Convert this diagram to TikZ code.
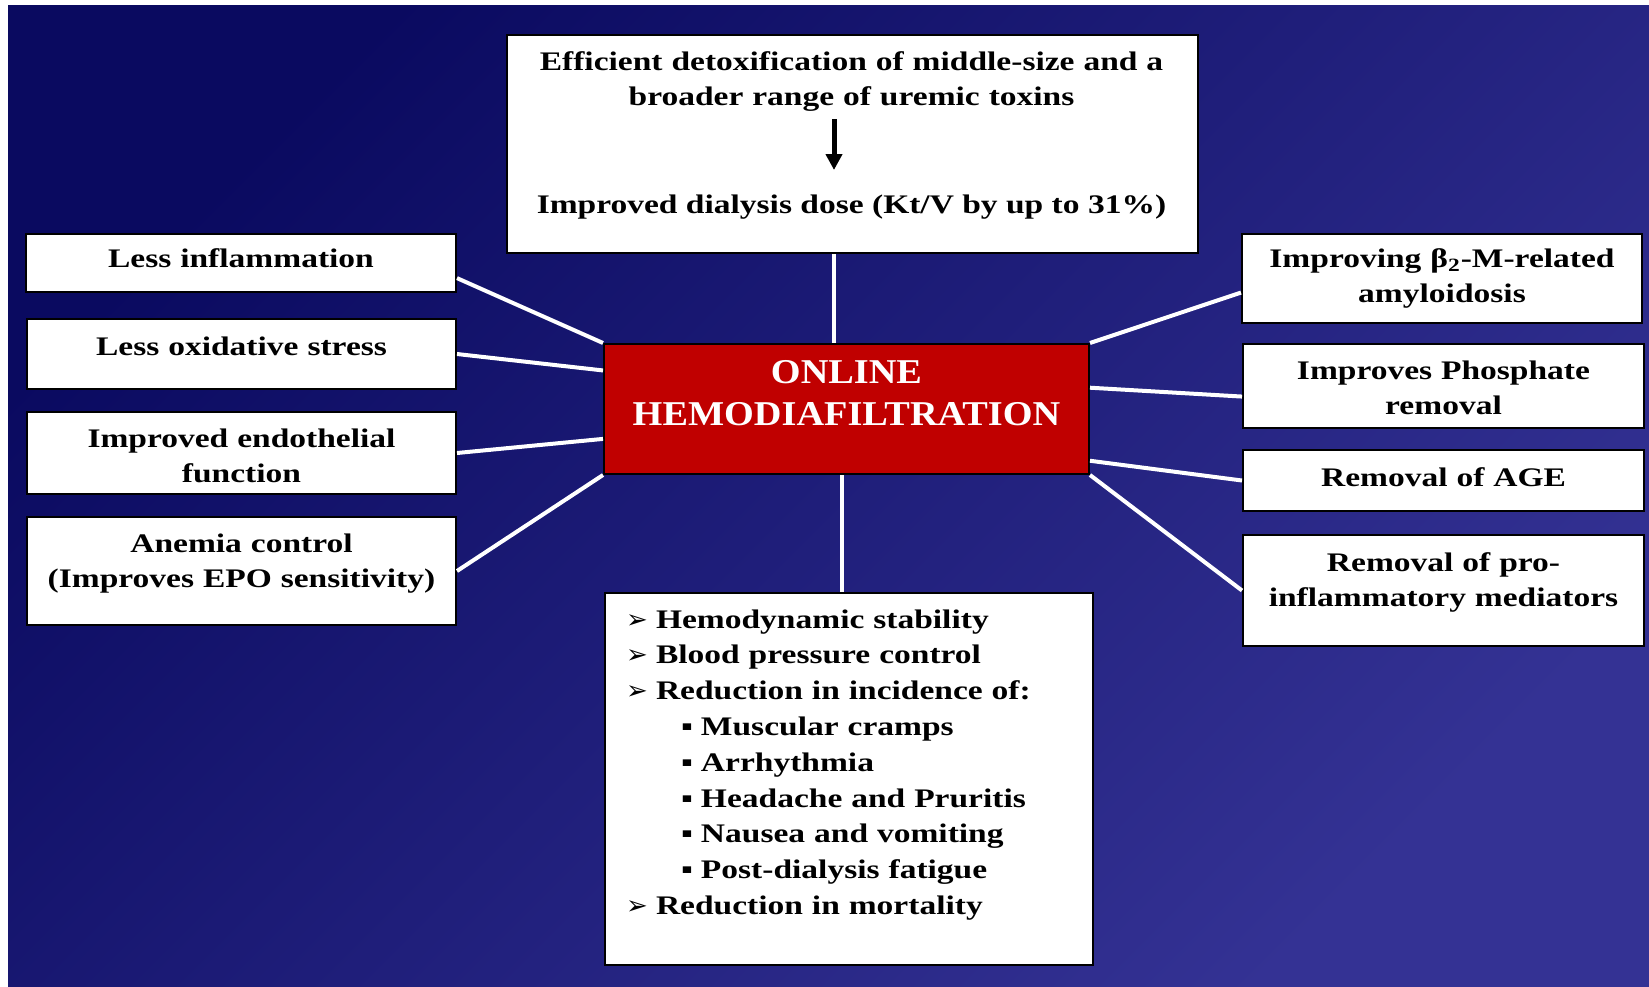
\documentclass[tikz,border=0pt]{standalone}
\usepackage{fontspec}
\setmainfont{Liberation Serif}[FakeStretch=1.25]
\newfontfamily\titlefont{Liberation Serif}[FakeStretch=1.1]
\newfontfamily\dingfont{DejaVu Sans}
\usetikzlibrary{arrows.meta}
\definecolor{navydark}{RGB}{10,10,96}
\definecolor{navylight}{RGB}{52,50,148}
\definecolor{hdfred}{RGB}{192,0,0}
\newcommand{\pointer}[1]{\hspace*{10.5pt}\makebox[15pt][l]{\dingfont\fontsize{13}{13}\selectfont ➢}#1}
\newcommand{\subpoint}[1]{\hspace*{38pt}\makebox[10pt][l]{▪}#1}
\tikzset{
  panel/.style={draw=black, fill=white, line width=1pt, inner sep=0pt,
    anchor=north west, align=center, font=\bfseries\fontsize{13.4}{17.9}\selectfont},
  boxsize/.style n args={3}{text width=#1, text height=#2, text depth=#3},
  txt/.style={inner sep=0pt, align=center, font=\bfseries\fontsize{13.4}{17.9}\selectfont},
  link/.style={draw=white, line width=2pt},
  fatarrow/.style={-{Triangle[length=8pt, width=8pt]}, line width=2.5pt}
  }

\begin{document}
\begin{tikzpicture}[x=0.5pt, y=-0.5pt]
  \useasboundingbox (0,0) rectangle (1649,986);
  \fill[white] (0,0) rectangle (1649,986);
  \shade[top color=navydark, bottom color=navylight, shading angle=45] (8,5) rectangle (1649,986);
  \coordinate (spine) at (834,0);
  \coordinate (stem) at (842,0);
  % centre box
  \node[panel, boxsize={242.5pt}{19.5pt}{45.5pt}, fill=hdfred, text=white,
    font=\titlefont\bfseries\fontsize{17.4}{21}\selectfont] (hdf) at (603,343) {ONLINE\\HEMODIAFILTRATION};
  % top box
  \node[panel, boxsize={345.5pt}{18pt}{91pt}] (topbox) at (506,34) {};
  \node[txt, text width=340pt, anchor=base] (detox) at (851.5,70) {Efficient detoxification of middle-size and a\\broader range of uremic toxins};
  \node[txt, anchor=base] (dose) at (851.5,213) {Improved dialysis dose (Kt/V by up to 31\%)};
  % left boxes
  \node[panel, boxsize={215pt}{16.5pt}{12.5pt}] (infl) at (25,233) {Less inflammation};
  \node[panel, boxsize={214.5pt}{18pt}{17pt}] (oxid) at (26,318) {Less oxidative stress};
  \node[panel, boxsize={214.5pt}{17.5pt}{23.5pt}] (endo) at (26,411) {Improved endothelial\\function};
  \node[panel, boxsize={214.5pt}{17.5pt}{36.5pt}] (anemia) at (26,516) {Anemia control\\(Improves EPO sensitivity)};
  % right boxes
  \node[panel, boxsize={200pt}{16.5pt}{28pt}] (beta) at (1241,233) {Improving β\textsubscript{2}-M-related\\amyloidosis};
  \node[panel, boxsize={200.5pt}{17.5pt}{24.5pt}] (phos) at (1242,343) {Improves Phosphate\\removal};
  \node[panel, boxsize={200.5pt}{18pt}{12.5pt}] (age) at (1242,449) {Removal of AGE};
  \node[panel, boxsize={200.5pt}{18pt}{37.5pt}] (proinf) at (1242,534) {Removal of pro-\\inflammatory mediators};
  % bottom box
  \node[panel, boxsize={244pt}{17.5pt}{168.5pt}, align=left] (effects) at (604,592) {%
    \pointer{Hemodynamic stability}\\
    \pointer{Blood pressure control}\\
    \pointer{Reduction in incidence of:}\\
    \subpoint{Muscular cramps}\\
    \subpoint{Arrhythmia}\\
    \subpoint{Headache and Pruritis}\\
    \subpoint{Nausea and vomiting}\\
    \subpoint{Post-dialysis fatigue}\\
    \pointer{Reduction in mortality}};
  % connectors
  \draw[link] (topbox.south -| spine) -- (hdf.north -| spine);
  \draw[link] (hdf.south -| stem) -- (effects.north -| stem);
  \draw[link] (infl.-4) -- (hdf.north west);
  \draw[link] (oxid.east) -- (hdf.171);
  \draw[link] (endo.east) -- (hdf.187);
  \draw[link] (anemia.east) -- (hdf.south west);
  \draw[link] (hdf.north east) -- (beta.184);
  \draw[link] (hdf.5) -- (phos.183);
  \draw[link] (hdf.-12) -- (age.west);
  \draw[link] (hdf.south east) -- (proinf.west);
  \draw[fatarrow, shorten <=3.5pt, shorten >=12pt] (detox.south -| spine) -- (dose.north -| spine);
\end{tikzpicture}
\end{document}
